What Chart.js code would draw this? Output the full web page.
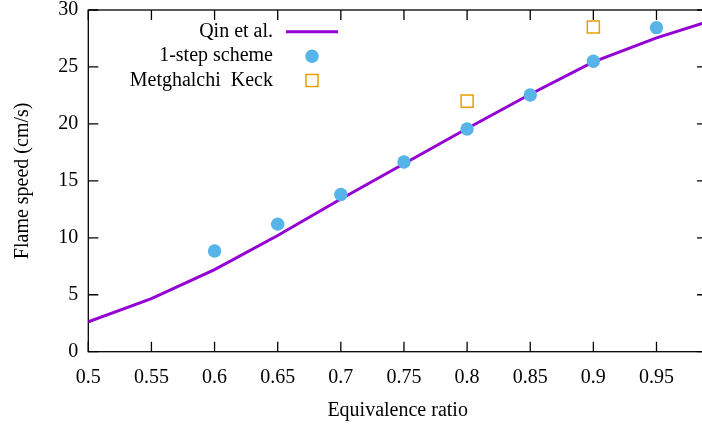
<!DOCTYPE html>
<html><head><meta charset="utf-8">
<script src="https://cdn.jsdelivr.net/npm/chart.js@4/dist/chart.umd.min.js"></script>
<style>html,body{margin:0;padding:0;background:#fff;overflow:hidden}#wrap{width:702px;height:428px;overflow:hidden}canvas{display:block}</style>
</head><body><div id="wrap"><canvas id="c" width="720" height="428"></canvas></div>
<script>
const phiQin = [0.5, 0.55, 0.6, 0.65, 0.7, 0.75, 0.8, 0.85, 0.9, 0.95, 0.99];
const sQin   = [2.63, 4.65, 7.2, 10.2, 13.4, 16.5, 19.6, 22.6, 25.45, 27.55, 28.95];
const phiOneStep = [0.6, 0.65, 0.7, 0.75, 0.8, 0.85, 0.9, 0.95];
const sOneStep   = [8.84, 11.2, 13.8, 16.66, 19.55, 22.54, 25.5, 28.45];
const phiMK = [0.8, 0.9];
const sMK   = [22.0, 28.5];
const xTicks = [0.5, 0.55, 0.6, 0.65, 0.7, 0.75, 0.8, 0.85, 0.9, 0.95];
const yTicks = [0, 5, 10, 15, 20, 25, 30];
const labels = ['Qin et al.', '1-step scheme', 'Metghalchi  Keck'];

const FONT = 'Liberation Serif';
Chart.defaults.color = '#000';
Chart.defaults.font.family = FONT;

const toXY = (xs, ys) => xs.map((x, i) => ({x: x, y: ys[i]}));

const framePlugin = {
  id: 'frame',
  beforeDatasetsDraw(chart) {
    const {ctx, chartArea: a, scales: {x, y}} = chart;
    ctx.save();
    ctx.strokeStyle = '#000';
    ctx.lineWidth = 1.3;
    ctx.strokeRect(a.left, a.top, a.right - a.left, a.bottom - a.top);
    ctx.beginPath();
    const L = 10;
    xTicks.forEach(v => {
      const px = x.getPixelForValue(v);
      ctx.moveTo(px, a.bottom); ctx.lineTo(px, a.bottom - L);
      ctx.moveTo(px, a.top); ctx.lineTo(px, a.top + L);
    });
    yTicks.forEach(v => {
      const py = y.getPixelForValue(v);
      ctx.moveTo(a.left, py); ctx.lineTo(a.left + L, py);
      ctx.moveTo(a.right, py); ctx.lineTo(a.right - L, py);
    });
    ctx.stroke();
    ctx.restore();
  },
  afterDraw(chart) {
    const {ctx} = chart;
    const ds = chart.data.datasets;
    ctx.save();
    ctx.font = '20px "' + FONT + '"';
    ctx.fillStyle = '#000';
    ctx.textAlign = 'right';
    ctx.textBaseline = 'middle';
    const rows = [31.7, 56.2, 80.5];
    const tx = 273, sx = 312;
    rows.forEach((ry, i) => ctx.fillText(ds[i].label, tx, ry));
    ctx.strokeStyle = ds[0].borderColor;
    ctx.lineWidth = ds[0].borderWidth;
    ctx.beginPath(); ctx.moveTo(286, rows[0]); ctx.lineTo(338, rows[0]); ctx.stroke();
    ctx.fillStyle = ds[1].backgroundColor;
    ctx.beginPath(); ctx.arc(sx, rows[1], ds[1].pointRadius, 0, Math.PI * 2); ctx.fill();
    ctx.strokeStyle = ds[2].borderColor;
    ctx.lineWidth = ds[2].borderWidth;
    const h = ds[2].pointRadius * Math.SQRT1_2;
    ctx.strokeRect(sx - h, rows[2] - h, 2 * h, 2 * h);
    ctx.restore();
  }
};

new Chart(document.getElementById('c'), {
  type: 'scatter',
  data: {
    datasets: [
      {label: labels[0], data: toXY(phiQin, sQin), showLine: true, borderColor: '#9400D3', borderWidth: 3,
       pointRadius: 0, tension: 0, fill: false, order: 3},
      {label: labels[1], data: toXY(phiOneStep, sOneStep), backgroundColor: '#56B4E9', borderWidth: 0,
       pointRadius: 6.7, pointStyle: 'circle', order: 1},
      {label: labels[2], data: toXY(phiMK, sMK), backgroundColor: 'rgba(0,0,0,0)', borderColor: '#E69F00',
       borderWidth: 1.5, pointRadius: 8.5, pointStyle: 'rect', order: 2}
    ]
  },
  options: {
    responsive: false,
    devicePixelRatio: 1,
    animation: false,
    layout: {padding: {left: 0, right: 13, top: 10, bottom: 0}},
    plugins: {legend: {display: false}, tooltip: {enabled: false}},
    scales: {
      x: {
        type: 'linear', min: 0.5, max: 0.99,
        afterBuildTicks: s => { s.ticks = xTicks.map(v => ({value: v})); },
        afterFit: s => { s.height = 76.3; s.paddingLeft = 0; s.paddingRight = 0; },
        grid: {display: false, drawTicks: false},
        border: {display: false},
        ticks: {font: {size: 20, family: FONT}, color: '#000', padding: 14,
                maxRotation: 0, autoSkip: false,
                callback: v => String(Number(v.toFixed(2)))},
        title: {display: true, text: 'Equivalence ratio', font: {size: 20, family: FONT}, color: '#000',
                padding: {top: 0, bottom: 5}}
      },
      y: {
        type: 'linear', min: 0, max: 30,
        afterBuildTicks: s => { s.ticks = yTicks.map(v => ({value: v})); },
        afterFit: s => { s.width = 88.3; s.paddingTop = 0; s.paddingBottom = 0; },
        grid: {display: false, drawTicks: false},
        border: {display: false},
        ticks: {font: {size: 20, family: FONT}, color: '#000', padding: 10, autoSkip: false},
        title: {display: true, text: 'Flame speed (cm/s)', font: {size: 20, family: FONT}, color: '#000',
                padding: {top: 11, bottom: 0}}
      }
    }
  },
  plugins: [framePlugin]
});
</script>
</body></html>
